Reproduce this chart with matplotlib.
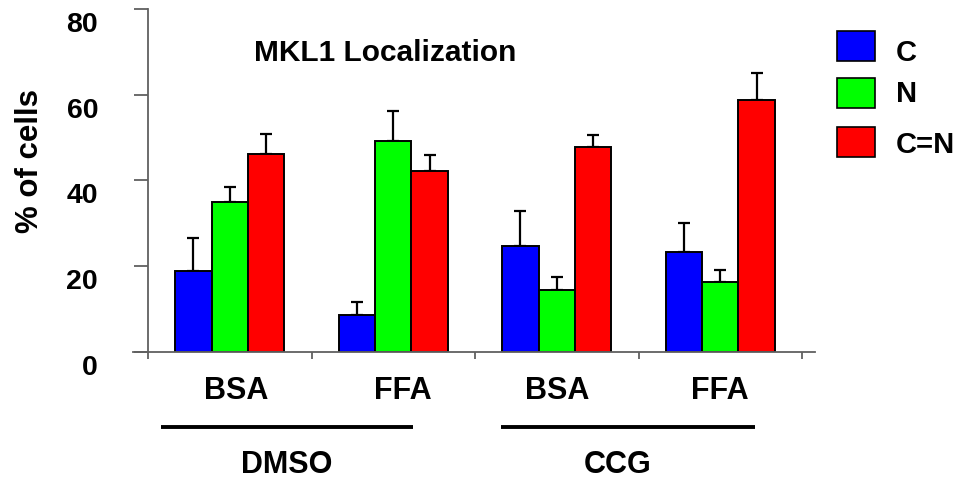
import numpy as np
import matplotlib.pyplot as plt
from matplotlib.patches import Rectangle
from matplotlib.transforms import ScaledTranslation

plt.rcParams['font.family'] = ['Liberation Sans', 'DejaVu Sans']
plt.rcParams['font.weight'] = 'bold'

# MKL1 localization, % of cells per condition
conditions = ["BSA", "FFA", "BSA", "FFA"]
treatments = ["DMSO", "CCG"]
series = ["C", "N", "C=N"]
colors = ["#0000ff", "#00ff00", "#ff0000"]

c_vals = [18.8, 8.7, 24.8, 23.3]
c_err = [7.9, 3.0, 8.2, 6.9]
n_vals = [35.1, 49.3, 14.5, 16.3]
n_err = [3.5, 6.9, 3.1, 2.9]
cn_vals = [46.2, 42.1, 47.9, 58.7]
cn_err = [4.6, 3.9, 2.8, 6.4]

values = [c_vals, n_vals, cn_vals]
errors = [c_err, n_err, cn_err]

fig = plt.figure(figsize=(9.65, 4.85), dpi=100)
ax = fig.add_axes([133 / 965, 132 / 485, 682 / 965, 343 / 485])

x = np.arange(len(conditions))
w = 0.223
axis_gray = "#606060"

for i, (vals, errs, col) in enumerate(zip(values, errors, colors)):
    ax.bar(x + (i - 1) * w, vals, width=w, color=col, edgecolor="black",
           linewidth=1.4, zorder=2)
    ax.errorbar(x + (i - 1) * w, vals, yerr=[np.zeros(len(errs)), errs],
                fmt="none", ecolor="black", elinewidth=1.6, capsize=4.5,
                capthick=1.6, zorder=1)

ax.set_xlim(-0.5 - 15 / 163.5, 3.5 + 13 / 163.5)
ax.set_ylim(0, 80)

ax.spines["top"].set_visible(False)
ax.spines["right"].set_visible(False)
ax.spines["left"].set_position(("data", -0.5))
ax.spines["left"].set_bounds(0, 80)
for s in ["left", "bottom"]:
    ax.spines[s].set_color(axis_gray)
    ax.spines[s].set_linewidth(1.3)

ax.set_yticks([0, 20, 40, 60, 80])
ax.tick_params(axis="y", direction="out", length=10, width=1.3,
               color=axis_gray, pad=26, labelsize=20.5)
ax.set_xticks(np.arange(-0.5, 4.0, 1.0))
ax.set_xticklabels([])
ax.tick_params(axis="x", direction="out", length=5, width=1.3, color=axis_gray)

# shift y labels down a little below their ticks
shift = ScaledTranslation(0, -12 / 100, fig.dpi_scale_trans)
for lab in ax.get_yticklabels():
    lab.set_transform(lab.get_transform() + shift)
    lab.set_fontweight("bold")

fig.text(30 / 965, 1 - 161 / 485, "% of cells", rotation=90, ha="center",
         va="center", fontsize=22.5, fontweight="bold")

ax.text(385 / 965, 1 - 53 / 485, "MKL1 Localization", transform=fig.transFigure,
        ha="center", va="center", fontsize=21.5, fontweight="bold")

# condition labels under each group
tr = ax.get_xaxis_transform()
label_x = [0.04, 1.06, 2.0, 3.0]
for lx, name in zip(label_x, conditions):
    ax.text(lx, -0.111, name, transform=tr, ha="center", va="center",
            fontsize=22, fontweight="bold")

# treatment bars and names
bar_spans = [(-0.42, 1.12), (1.66, 3.21)]
bar_centers = [0.35, 2.37]
for (x0, x1), xc, name in zip(bar_spans, bar_centers, treatments):
    ax.plot([x0, x1], [-0.219, -0.219], transform=tr, color="black",
            linewidth=2.8, clip_on=False, solid_capstyle="butt")
    ax.text(xc, -0.327, name, transform=tr, ha="center", va="center",
            fontsize=22, fontweight="bold")

# legend boxes on the right
box_tops = [32, 79, 128]
text_y = [53, 94, 145]
for top, ty, name, col in zip(box_tops, text_y, series, colors):
    fig.patches.append(Rectangle((837 / 965, 1 - (top + 30) / 485), 38 / 965,
                                 30 / 485, transform=fig.transFigure,
                                 facecolor=col, edgecolor="black", linewidth=1.2))
    fig.text(896 / 965, 1 - ty / 485, name, ha="left", va="center",
             fontsize=21, fontweight="bold")

fig.savefig("out.png", dpi=100)
